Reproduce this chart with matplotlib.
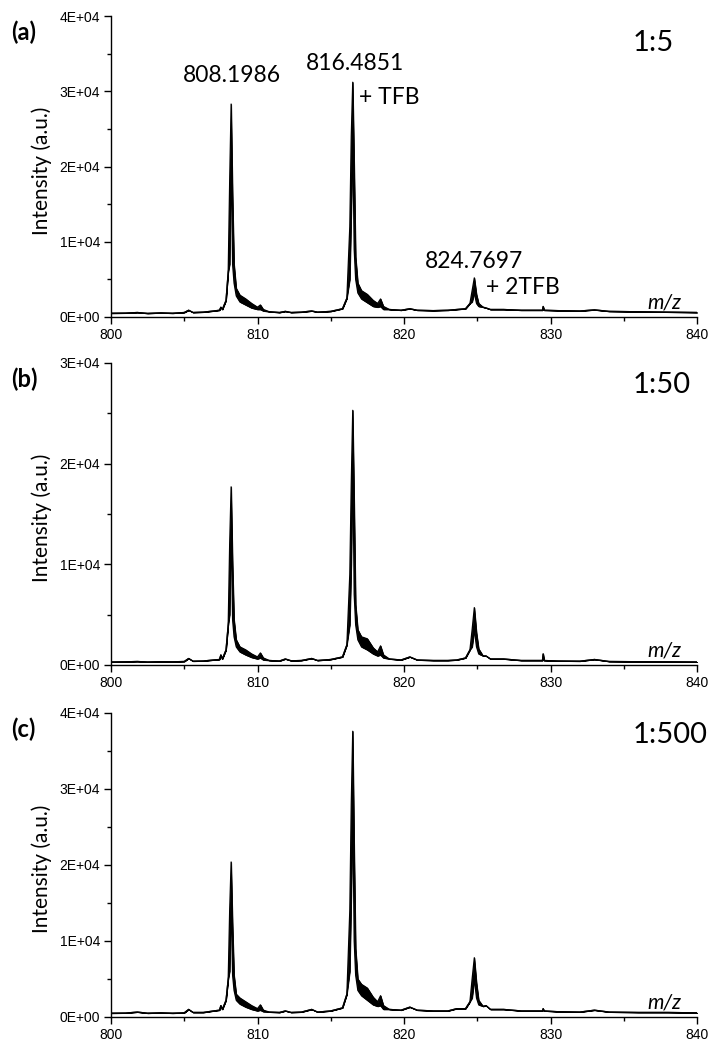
import matplotlib
matplotlib.use("Agg")
import matplotlib.pyplot as plt
from matplotlib.ticker import MultipleLocator, FuncFormatter
import numpy as np

# ---------------- data ----------------
mz = [800.0, 801.0, 801.8, 802.5, 803.4, 804.2, 805.0, 805.3, 805.6, 806.3,
      807.0, 807.4, 807.5, 807.6, 807.85, 808.0, 808.1, 808.2, 808.3, 808.4,
      808.55, 808.8, 809.2, 809.6, 810.0, 810.2, 810.4, 810.8, 811.5, 811.9,
      812.3, 813.0, 813.7, 814.1, 815.0, 815.8, 816.1, 816.3, 816.4, 816.5,
      816.6, 816.7, 816.85, 817.1, 817.5, 817.9, 818.2, 818.4, 818.6, 819.0,
      819.8, 820.4, 820.9, 822.0, 823.0, 823.6, 824.2, 824.5, 824.65, 824.8,
      824.95, 825.1, 825.4, 825.6, 825.9, 826.8, 828.0, 829.45, 829.5, 829.55,
      830.5, 832.0, 833.0, 834.0, 836.0, 838.0, 840.0]

# upper trace of the overlaid spectra
upper_a = [500, 520, 600, 480, 550, 500, 600, 900, 600, 650,
           800, 900, 1300, 1000, 2200, 6000, 18000, 28300, 16000, 7000,
           3800, 2900, 2400, 1800, 1300, 1600, 1000, 700, 600, 750,
           600, 650, 800, 650, 750, 1100, 2500, 12000, 24000, 31200,
           20000, 8000, 4500, 3500, 3000, 2200, 1800, 2400, 1400, 1000,
           900, 1100, 900, 850, 900, 1000, 1100, 1800, 3500, 5200,
           3000, 1800, 1300, 1200, 1000, 1000, 900, 900, 1400, 900,
           850, 800, 950, 750, 700, 650, 600]
# lower trace (None = same as upper)
lower_a = [None] * 16 + [7000, 21000, 7000, 4500,
           2800, 2000, 1600, 1200, 1000, 1000, 800] + [None] * 10 + \
          [5000, 14000, 24000, 9000, 5000, 3200, 2400, 1900, 1400, 1300, 1400, 1000] + \
          [None] * 9 + [2000, 3200, 1800, 1400] + [None] * 16

upper_b = [300, 320, 350, 300, 330, 320, 350, 650, 380, 400,
           500, 550, 1000, 600, 1500, 4000, 12000, 17700, 10000, 4500,
           2500, 1800, 1500, 1100, 800, 1200, 700, 450, 400, 600,
           420, 450, 650, 450, 550, 800, 2000, 9000, 18000, 25300,
           16000, 6000, 3500, 2800, 2600, 1700, 1300, 1900, 1000, 600,
           500, 800, 500, 450, 450, 500, 700, 1500, 3500, 5700,
           3200, 1600, 900, 900, 600, 600, 450, 450, 1100, 450,
           400, 380, 550, 350, 330, 320, 300]
lower_b = [None] * 16 + [5000, 13500, 4500, 2800,
           1800, 1300, 1000, 750, 600, 700, 500] + [None] * 10 + \
          [4000, 10000, 21000, 7000, 4000, 2500, 1800, 1500, 1100, 900, 1000, 700] + \
          [None] * 9 + [1800, 3500, 1800, 1100] + [None] * 16

upper_c = [500, 520, 650, 500, 550, 500, 550, 1000, 600, 600,
           800, 900, 1500, 1000, 2200, 5000, 14000, 20400, 12000, 5500,
           3000, 2500, 2000, 1500, 1100, 1600, 900, 650, 600, 800,
           600, 650, 1000, 650, 800, 1200, 3000, 14000, 28000, 37600,
           22000, 9000, 5000, 4300, 3800, 2600, 2000, 2800, 1500, 1000,
           900, 1300, 900, 800, 800, 1100, 1100, 2000, 5000, 7800,
           4500, 2200, 1400, 1500, 1000, 1000, 800, 800, 1100, 800,
           700, 650, 900, 650, 600, 600, 550]
lower_c = [None] * 16 + [6000, 15000, 5500, 3500,
           2200, 1700, 1300, 1000, 800, 900, 700] + [None] * 10 + \
          [6000, 16000, 28000, 10000, 5500, 3500, 2800, 2200, 1600, 1400, 1500, 1000] + \
          [None] * 9 + [2500, 5000, 2500, 1600] + [None] * 16

panel_tags = ["(a)", "(b)", "(c)"]
ratios = ["1:5", "1:50", "1:500"]
ymaxes = [4e4, 3e4, 4e4]
x_ticks = [800, 810, 820, 830, 840]
peak_labels = ["808.1986", "816.4851", "824.7697"]
adduct_labels = ["+ TFB", "+ 2TFB"]

# ---------------- figure ----------------
W, H = 722, 1050
fig = plt.figure(figsize=(W / 100, H / 100), dpi=100)

def fx(px):
    return px / W

def fy(py):
    return 1 - py / H

ax_left, ax_right = 111, 697
boxes = [(16, 317), (363, 665), (713, 1017)]
text_font = "Lato"
tick_font = "Liberation Sans"

series = [(upper_a, lower_a), (upper_b, lower_b), (upper_c, lower_c)]

axes = []
for i, ((top, bot), (up, lo)) in enumerate(zip(boxes, series)):
    ax = fig.add_axes([fx(ax_left), fy(bot), fx(ax_right - ax_left), (bot - top) / H])
    up_arr = np.array(up, dtype=float)
    lo_arr = np.array([u if l is None else l for u, l in zip(up, lo)], dtype=float)
    ax.fill_between(mz, lo_arr, up_arr, color="black", lw=0.6)
    ax.plot(mz, up_arr, color="black", lw=0.9)
    ax.plot(mz, lo_arr, color="black", lw=0.9)
    ax.set_xlim(800, 840)
    ax.set_ylim(0, ymaxes[i])
    ax.set_xticks(x_ticks)
    ax.xaxis.set_minor_locator(MultipleLocator(5))
    ax.yaxis.set_major_locator(MultipleLocator(1e4))
    ax.yaxis.set_minor_locator(MultipleLocator(5e3))
    ax.yaxis.set_major_formatter(FuncFormatter(lambda v, p: f"{v:.0E}"))
    for s in ["top", "right"]:
        ax.spines[s].set_visible(False)
    for s in ["left", "bottom"]:
        ax.spines[s].set_linewidth(1.0)
    ax.tick_params(which="major", direction="out", length=5, width=1.0,
                   labelsize=10, pad=3)
    ax.tick_params(which="minor", direction="out", length=3, width=1.0)
    for lab in ax.get_xticklabels() + ax.get_yticklabels():
        lab.set_fontfamily(tick_font)
    axes.append(ax)

    # panel tag
    fig.text(fx(11), fy(top + 16), panel_tags[i], fontsize=17, fontweight="bold",
             family=text_font, ha="left", va="center")
    # ratio
    fig.text(fx(633), fy(top + 27 if i == 0 else top + 22), ratios[i], fontsize=21,
             family=text_font, ha="left", va="center")
    # y label
    fig.text(fx(42), fy((top + bot) / 2 + 4), "Intensity (a.u.)", fontsize=15,
             family=text_font, rotation=90, ha="center", va="center")
    # m/z
    fig.text(fx(664), fy(bot - 14), "m/z", fontsize=15, style="italic",
             family=text_font, ha="center", va="center")

# annotations in panel (a)
fig.text(fx(232), fy(76), peak_labels[0], fontsize=16.5, family=text_font,
         ha="center", va="center")
fig.text(fx(355), fy(64), peak_labels[1], fontsize=16.5, family=text_font,
         ha="center", va="center")
fig.text(fx(359), fy(98), adduct_labels[0], fontsize=16.5, family=text_font,
         ha="left", va="center")
fig.text(fx(474), fy(261), peak_labels[2], fontsize=16.5, family=text_font,
         ha="center", va="center")
fig.text(fx(486), fy(287), adduct_labels[1], fontsize=16.5, family=text_font,
         ha="left", va="center")

fig.savefig("out.png", dpi=100)
